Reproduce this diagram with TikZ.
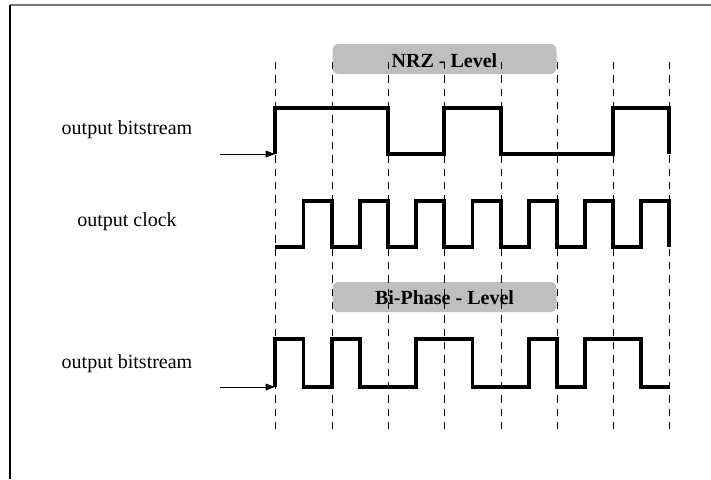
\documentclass[tikz,border=0pt]{standalone}
\usepackage{fontspec}
\setmainfont{Liberation Serif}
\usetikzlibrary{arrows.meta}
\tikzset{
  wave/.style={line width=2.7pt, line join=miter, line cap=butt},
  dashline/.style={line width=0.7pt, dash pattern=on 5.6pt off 4.4pt},
  lvlbox/.style={fill=black!25, draw=none, rounded corners=4.5pt, minimum width=168pt, minimum height=22.5pt, inner sep=0pt},
  lbl/.style={font=\fontsize{15}{18}\selectfont, inner sep=0pt},
  boldlbl/.style={font=\fontsize{15}{18}\selectfont\bfseries, inner sep=0pt},
  inarrow/.style={line width=0.75pt, -{Triangle[length=7pt,width=5pt]}}
}
\begin{document}
\begin{tikzpicture}[x=0.75pt, y=-0.75pt]
\useasboundingbox (0,0) rectangle (711,479);
% frame
\draw[line width=1pt, black!55] (10,5) -- (711,5);
\draw[line width=1pt, black] (10,5) -- (10,479);
% level boxes
\node[lvlbox] (nrz) at (444.5,59) {};
\node[lvlbox] (bip) at (444.5,297) {};
% dashed bit boundaries
\foreach \x in {275,332,388,444,501,557,613,669}{
  \draw[dashline] (\x,62) -- (\x,433);
}
% box texts on top
\node[boldlbl] (nrzt) at (444.5,61) {NRZ - Level};
\node[boldlbl] (bipt) at (444.5,298) {Bi-Phase - Level};
% labels
\node[lbl] (l1) at (127,130) {output bitstream};
\node[lbl] (l2) at (127,222) {output clock};
\node[lbl] (l3) at (127,364) {output bitstream};
% NRZ waveform
\coordinate (n0) at (275,154);
\draw[wave] (n0) -- (275,108) -- (388,108) -- (388,154) -- (444,154) -- (444,108) -- (501,108) -- (501,154) -- (613,154) -- (613,108) -- (669,108) -- (669,154);
\coordinate (a1) at (220,154);
\draw[inarrow] (a1) -- (n0);
% clock
\draw[wave] (275,247) -- (303.5,247) -- (303.5,201) -- (332,201) -- (332,247) -- (360,247) -- (360,201) -- (388,201) -- (388,247) -- (416,247) -- (416,201) -- (444,201) -- (444,247) -- (472.5,247) -- (472.5,201) -- (501,201) -- (501,247) -- (529,247) -- (529,201) -- (557,201) -- (557,247) -- (585,247) -- (585,201) -- (613,201) -- (613,247) -- (641,247) -- (641,201) -- (669,201) -- (669,247);
% Bi-phase waveform
\coordinate (b0) at (275,387);
\draw[wave] (b0) -- (275,339) -- (303.5,339) -- (303.5,387) -- (332,387) -- (332,339) -- (360,339) -- (360,387) -- (416,387) -- (416,339) -- (472.5,339) -- (472.5,387) -- (529,387) -- (529,339) -- (557,339) -- (557,387) -- (585,387) -- (585,339) -- (641,339) -- (641,387) -- (669,387);
\coordinate (a2) at (220,387);
\draw[inarrow] (a2) -- (b0);
\end{tikzpicture}
\end{document}
